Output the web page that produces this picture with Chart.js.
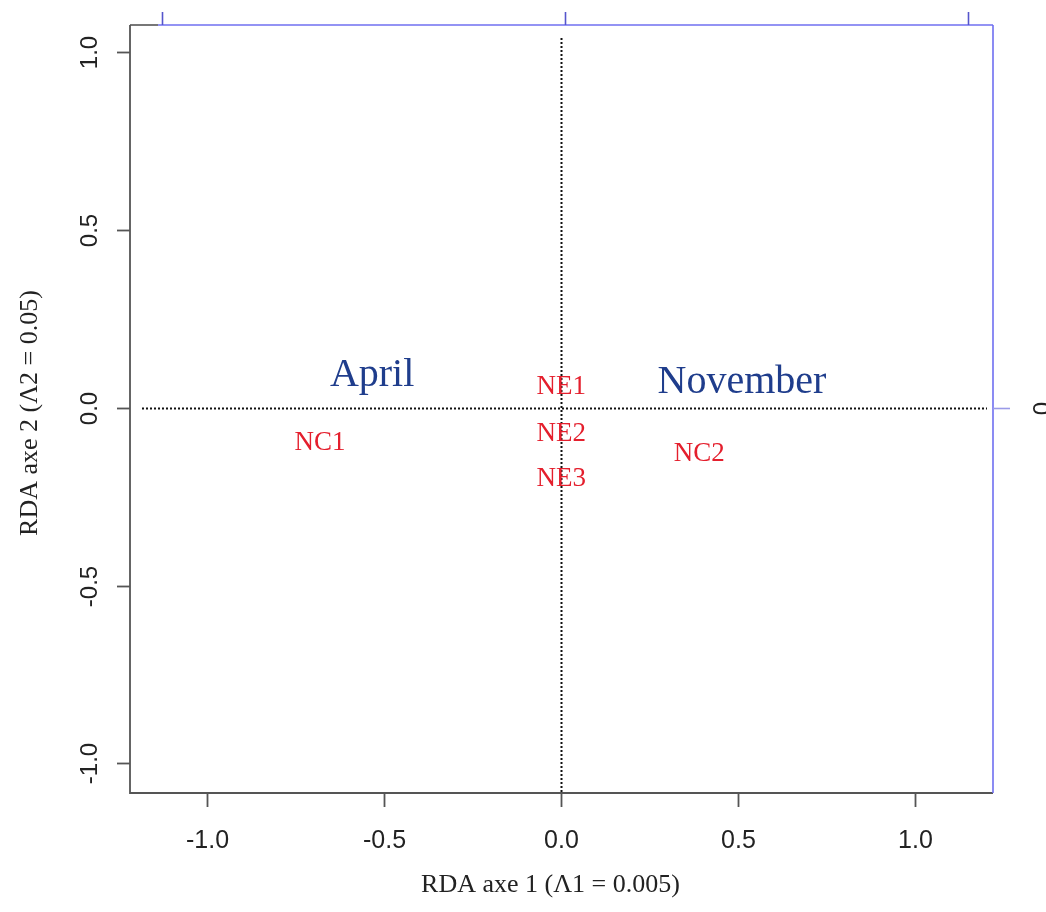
<!DOCTYPE html>
<html>
<head>
<meta charset="utf-8">
<script src="https://cdn.jsdelivr.net/npm/chart.js@4/dist/chart.umd.min.js"></script>
<style>
html,body{margin:0;padding:0;background:#fff;}
canvas{display:block;}
</style>
</head>
<body>
<canvas id="c" width="1046" height="912"></canvas>
<script>
// ---- data ----
const siteLabels = ["NC1", "NE1", "NE2", "NE3", "NC2"];
const siteX = [-0.681, 0.0, 0.0, 0.0, 0.390];
const siteY = [-0.093, 0.065, -0.068, -0.194, -0.124];

const monthLabels = ["April", "November"];
const monthX = [-0.534, 0.511];
const monthY = [0.098, 0.079];

const xTicks = [-1.0, -0.5, 0.0, 0.5, 1.0];
const yTicks = [-1.0, -0.5, 0.0, 0.5, 1.0];
const topTicks = [-1, 0, 1];
const rightTicks = [0];

const xTitle = "RDA axe 1 (\u039B1 = 0.005)";
const yTitle = "RDA axe 2 (\u039B2 = 0.05)";

const siteData = siteX.map((x, i) => ({x: x, y: siteY[i]}));
const monthData = monthX.map((x, i) => ({x: x, y: monthY[i]}));

const RED = "#e41f2d";
const BLUE = "#1f3d8c";
const AXIS_BLUE = "#6f6ff0";
const GRAY = "#555";

const biplotPlugin = {
  id: "biplot",
  afterDatasetsDraw(chart) {
    const ctx = chart.ctx;
    const xs = chart.scales.x, ys = chart.scales.y, x2 = chart.scales.x2;
    const a = chart.chartArea;
    ctx.save();

    // dotted zero lines
    ctx.strokeStyle = "#111";
    ctx.lineWidth = 2;
    ctx.setLineDash([2, 2]);
    const x0 = Math.round(xs.getPixelForValue(0)) + 0.5;
    const y0 = Math.round(ys.getPixelForValue(0)) + 0.5;
    ctx.beginPath();
    ctx.moveTo(x0, a.top + 13); ctx.lineTo(x0, a.bottom);
    ctx.moveTo(a.left + 12, y0); ctx.lineTo(a.right - 6, y0);
    ctx.stroke();
    ctx.setLineDash([]);

    // gray box (left, bottom)
    ctx.strokeStyle = GRAY;
    ctx.lineWidth = 1.8;
    ctx.beginPath();
    ctx.moveTo(a.left, a.top); ctx.lineTo(a.left, a.bottom); ctx.lineTo(a.right, a.bottom);
    ctx.stroke();

    // bottom ticks + labels
    ctx.fillStyle = "#222";
    ctx.font = "25px 'Liberation Sans', Arial, sans-serif";
    ctx.textAlign = "center";
    ctx.textBaseline = "alphabetic";
    xTicks.forEach(v => {
      const px = Math.round(xs.getPixelForValue(v)) + 0.5;
      ctx.beginPath(); ctx.moveTo(px, a.bottom); ctx.lineTo(px, a.bottom + 14); ctx.stroke();
      ctx.fillText(v.toFixed(1), px, a.bottom + 55);
    });

    // left ticks + rotated labels
    ctx.font = "24px 'Liberation Sans', Arial, sans-serif";
    yTicks.forEach(v => {
      const py = Math.round(ys.getPixelForValue(v)) + 0.5;
      ctx.beginPath(); ctx.moveTo(a.left, py); ctx.lineTo(a.left - 13, py); ctx.stroke();
      ctx.save();
      ctx.translate(a.left - 33, py);
      ctx.rotate(-Math.PI / 2);
      ctx.fillText(v.toFixed(1), 0, 0);
      ctx.restore();
    });

    // blue top axis
    ctx.strokeStyle = AXIS_BLUE;
    ctx.lineWidth = 1.6;
    ctx.beginPath();
    ctx.moveTo(a.left + 28, a.top); ctx.lineTo(a.right, a.top);
    ctx.stroke();
    ctx.strokeStyle = "#5555cc";
    topTicks.forEach(v => {
      const px = Math.round(x2.getPixelForValue(v)) + 0.5;
      ctx.beginPath(); ctx.moveTo(px, a.top); ctx.lineTo(px, a.top - 13); ctx.stroke();
    });
    ctx.strokeStyle = GRAY;
    ctx.beginPath(); ctx.moveTo(a.left, a.top); ctx.lineTo(a.left + 28, a.top); ctx.stroke();

    // blue right axis
    ctx.strokeStyle = AXIS_BLUE;
    ctx.beginPath();
    ctx.moveTo(a.right, a.top); ctx.lineTo(a.right, a.bottom);
    ctx.stroke();
    ctx.fillStyle = "#222";
    ctx.font = "24px 'Liberation Sans', Arial, sans-serif";
    rightTicks.forEach(v => {
      const py = Math.round(ys.getPixelForValue(v)) + 0.5;
      ctx.strokeStyle = "#9a9ae8";
      ctx.beginPath(); ctx.moveTo(a.right, py); ctx.lineTo(a.right + 17, py); ctx.stroke();
      ctx.save();
      ctx.translate(a.right + 57, py);
      ctx.rotate(-Math.PI / 2);
      ctx.fillText(String(v), 0, 0);
      ctx.restore();
    });

    // axis titles
    ctx.fillStyle = "#222";
    ctx.font = "26px 'Liberation Serif', 'Times New Roman', serif";
    ctx.textAlign = "center";
    ctx.fillText(xTitle, (a.left + a.right) / 2 - 11, a.bottom + 99);
    ctx.save();
    ctx.translate(37, (a.top + a.bottom) / 2 + 4);
    ctx.rotate(-Math.PI / 2);
    ctx.fillText(yTitle, 0, 0);
    ctx.restore();

    // text labels at data points
    const drawLabels = (meta, labels, color, size) => {
      ctx.fillStyle = color;
      ctx.font = size + "px 'Liberation Serif', 'Times New Roman', serif";
      ctx.textAlign = "center";
      ctx.textBaseline = "alphabetic";
      meta.data.forEach((pt, i) => {
        ctx.fillText(labels[i], pt.x, pt.y + size * 0.662 / 2);
      });
    };
    drawLabels(chart.getDatasetMeta(0), monthLabels, BLUE, 40);
    drawLabels(chart.getDatasetMeta(1), siteLabels, RED, 27);

    ctx.restore();
  }
};

new Chart(document.getElementById("c"), {
  type: "scatter",
  data: {
    datasets: [
      {label: "months", data: monthData, pointRadius: 0, showLine: false},
      {label: "sites", data: siteData, pointRadius: 0, showLine: false}
    ]
  },
  options: {
    responsive: false,
    animation: false,
    events: [],
    layout: {padding: {left: 130, top: 25, right: 53, bottom: 119}},
    plugins: {legend: {display: false}, tooltip: {enabled: false}, title: {display: false}},
    scales: {
      x: {type: "linear", min: -1.218, max: 1.220, display: false},
      y: {type: "linear", min: -1.083, max: 1.077, display: false},
      x2: {type: "linear", axis: "x", min: -1.079, max: 1.062, display: false}
    }
  },
  plugins: [biplotPlugin]
});
</script>
</body>
</html>
